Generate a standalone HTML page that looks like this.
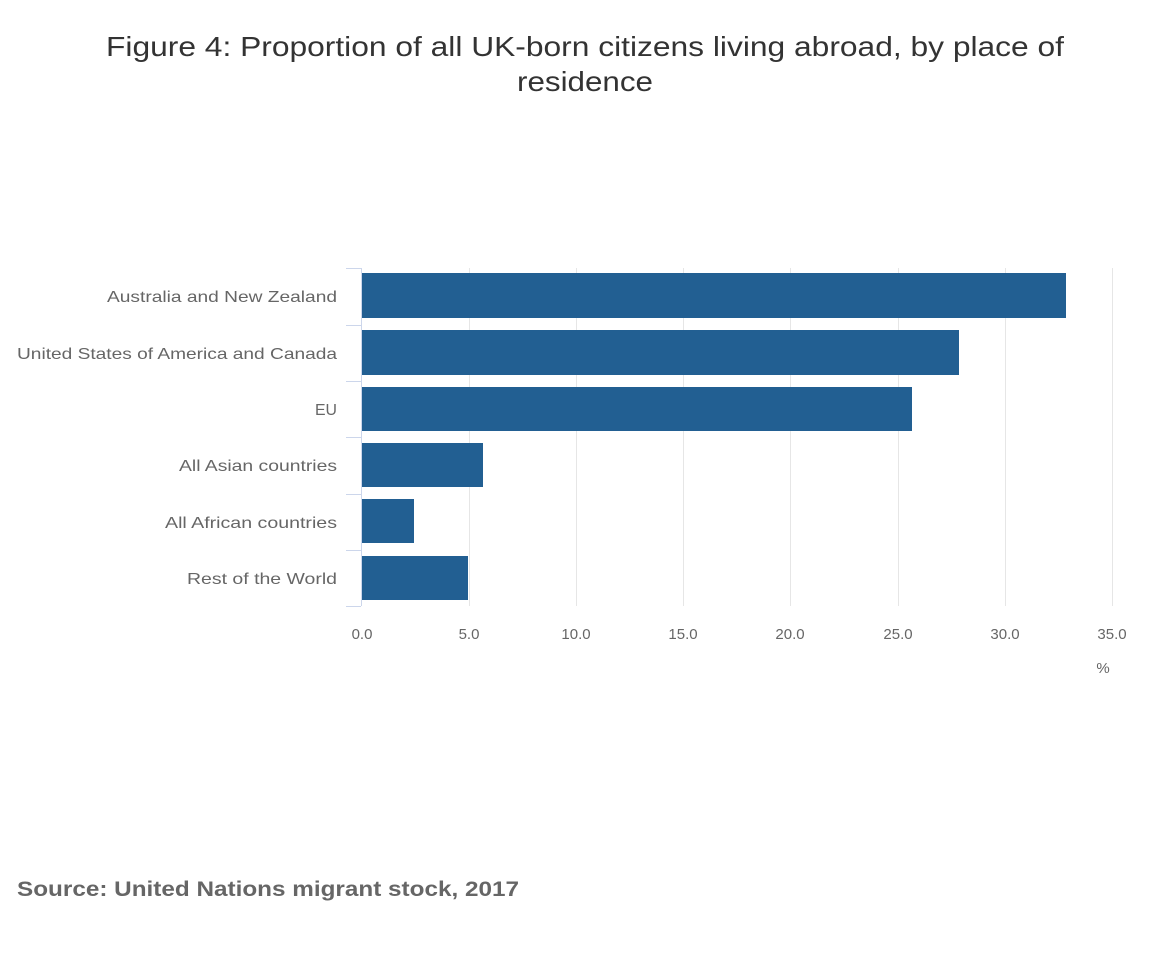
<!DOCTYPE html>
<html><head><style>body{margin:0;background:#fff;}</style></head>
<body>
<svg width="1170" height="970" xmlns="http://www.w3.org/2000/svg" font-family="Liberation Sans, sans-serif">
<rect width="1170" height="970" fill="#fff"/>
<text x="585" y="56" font-size="28" fill="#333" text-anchor="middle" textLength="958" lengthAdjust="spacingAndGlyphs">Figure 4: Proportion of all UK-born citizens living abroad, by place of</text>
<text x="585" y="91" font-size="28" fill="#333" text-anchor="middle" textLength="136" lengthAdjust="spacingAndGlyphs">residence</text>
<g stroke="#e6e6e6" stroke-width="1">
<line x1="469.5" y1="268" x2="469.5" y2="606"/>
<line x1="576.5" y1="268" x2="576.5" y2="606"/>
<line x1="683.5" y1="268" x2="683.5" y2="606"/>
<line x1="790.5" y1="268" x2="790.5" y2="606"/>
<line x1="898.5" y1="268" x2="898.5" y2="606"/>
<line x1="1005.5" y1="268" x2="1005.5" y2="606"/>
<line x1="1112.5" y1="268" x2="1112.5" y2="606"/>
</g>
<g stroke="#ccd6eb" stroke-width="1">
<line x1="361.5" y1="268" x2="361.5" y2="606"/>
<line x1="346" y1="268.5" x2="361" y2="268.5"/>
<line x1="346" y1="325.5" x2="361" y2="325.5"/>
<line x1="346" y1="381.5" x2="361" y2="381.5"/>
<line x1="346" y1="437.5" x2="361" y2="437.5"/>
<line x1="346" y1="494.5" x2="361" y2="494.5"/>
<line x1="346" y1="550.5" x2="361" y2="550.5"/>
<line x1="346" y1="606.5" x2="361" y2="606.5"/>
</g>
<g fill="#225f92">
<rect x="362" y="273" width="704" height="45"/>
<rect x="362" y="330" width="597" height="45"/>
<rect x="362" y="387" width="550" height="44"/>
<rect x="362" y="443" width="121" height="44"/>
<rect x="362" y="499" width="52" height="44"/>
<rect x="362" y="556" width="106" height="44"/>
</g>
<g font-size="16" fill="#666" text-anchor="end" lengthAdjust="spacingAndGlyphs">
<text x="337" y="302" textLength="230" lengthAdjust="spacingAndGlyphs">Australia and New Zealand</text>
<text x="337" y="359" textLength="320" lengthAdjust="spacingAndGlyphs">United States of America and Canada</text>
<text x="337" y="415" textLength="22" lengthAdjust="spacingAndGlyphs">EU</text>
<text x="337" y="471" textLength="158" lengthAdjust="spacingAndGlyphs">All Asian countries</text>
<text x="337" y="528" textLength="172" lengthAdjust="spacingAndGlyphs">All African countries</text>
<text x="337" y="584" textLength="150" lengthAdjust="spacingAndGlyphs">Rest of the World</text>
</g>
<g font-size="15" fill="#666" text-anchor="middle">
<text x="362" y="639">0.0</text>
<text x="469" y="639">5.0</text>
<text x="576" y="639">10.0</text>
<text x="683" y="639">15.0</text>
<text x="790" y="639">20.0</text>
<text x="898" y="639">25.0</text>
<text x="1005" y="639">30.0</text>
<text x="1112" y="639">35.0</text>
<text x="1103" y="673">%</text>
</g>
<text x="17" y="896" font-size="21" font-weight="bold" fill="#666" textLength="502" lengthAdjust="spacingAndGlyphs">Source: United Nations migrant stock, 2017</text>
</svg>
</body></html>
